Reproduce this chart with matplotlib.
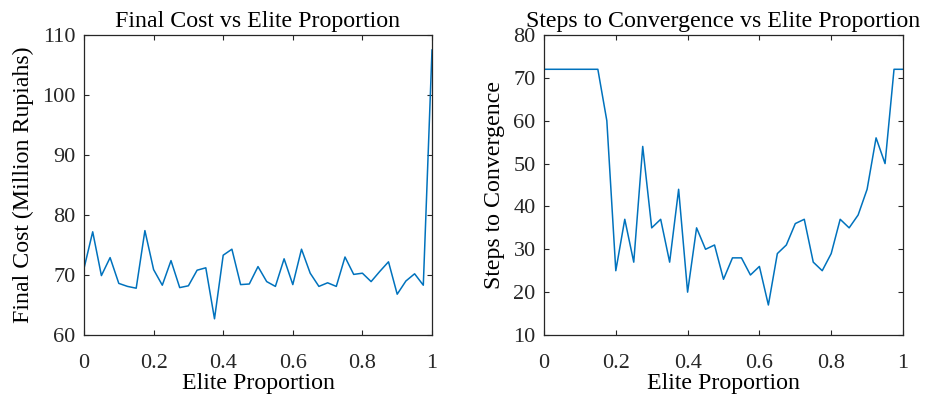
import numpy as np
import matplotlib
matplotlib.use("Agg")
import matplotlib.pyplot as plt

# elite proportion sweep 0:0.025:1
elite = np.linspace(0, 1, 41)

final_cost = [
    71.1, 77.2, 69.9, 72.9, 68.6, 68.1, 67.8, 77.4, 70.9, 68.3,
    72.4, 67.9, 68.2, 70.8, 71.2, 62.7, 73.3, 74.3, 68.4, 68.5,
    71.4, 68.9, 68.1, 72.7, 68.4, 74.3, 70.3, 68.1, 68.7, 68.1,
    73.0, 70.1, 70.3, 68.9, 70.6, 72.2, 66.8, 69.0, 70.2, 68.3,
    107.5,
]

steps = [
    72, 72, 72, 72, 72, 72, 72, 60, 25, 37,
    27, 54, 35, 37, 27, 44, 20, 35, 30, 31,
    23, 28, 28, 24, 26, 17, 29, 31, 36, 37,
    27, 25, 29, 37, 35, 38, 44, 56, 50, 72,
    72,
]

plt.rcParams["font.family"] = "Liberation Serif"
plt.rcParams["font.size"] = 16

line_color = "#0072BD"

fig = plt.figure(figsize=(9.29, 3.97), dpi=100)

ax1 = fig.add_axes([84 / 929, 1 - 335 / 397, 348 / 929, 300 / 397])
ax2 = fig.add_axes([544 / 929, 1 - 335 / 397, 359 / 929, 300 / 397])

panels = [
    (ax1, final_cost, (60, 110), np.arange(60, 111, 10),
     "Final Cost (Million Rupiahs)", "Final Cost vs Elite Proportion"),
    (ax2, steps, (10, 80), np.arange(10, 81, 10),
     "Steps to Convergence", "Steps to Convergence vs Elite Proportion"),
]

for ax, values, ylim, yticks, ylabel, title in panels:
    ax.plot(elite, values, color=line_color, linewidth=1.1)
    ax.set_xlim(0, 1)
    ax.set_ylim(*ylim)
    ax.set_xticks([0, 0.2, 0.4, 0.6, 0.8, 1])
    ax.set_xticklabels(["0", "0.2", "0.4", "0.6", "0.8", "1"])
    ax.set_yticks(yticks)
    ax.set_xlabel("Elite Proportion", fontsize=17.2, labelpad=0)
    ax.set_ylabel(ylabel, fontsize=17.2, labelpad=6)
    ax.set_title(title, fontsize=17.2, pad=6)
    ax.tick_params(axis="x", pad=14)
    ax.tick_params(axis="y", pad=6)
    ax.tick_params(direction="in", top=True, right=True, length=3.5,
                   width=0.8, color="#262626", labelcolor="#262626")
    for spine in ax.spines.values():
        spine.set_color("#262626")
        spine.set_linewidth(0.9)

fig.savefig("out.png", dpi=100)
